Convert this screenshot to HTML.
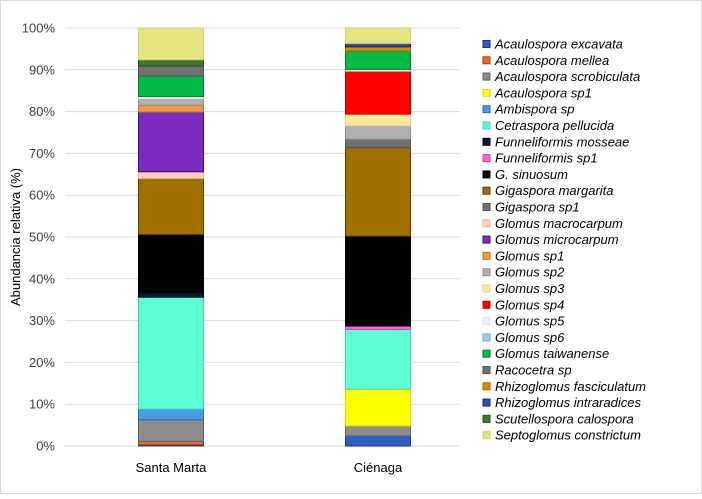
<!DOCTYPE html>
<html><head><meta charset="utf-8">
<style>
body{margin:0;background:#fff;}
#chart{position:relative;width:702px;height:494px;font-family:"Liberation Sans",sans-serif;}
svg text{font-family:"Liberation Sans",sans-serif;}
</style></head>
<body>
<div id="chart">
<svg id="svg" width="702" height="494" xmlns="http://www.w3.org/2000/svg">
<rect x="0.5" y="0.5" width="701" height="493" fill="#fff" stroke="#d9d9d9"/>
<text x="0" y="0" transform="translate(20,237) rotate(-90)" text-anchor="middle" font-size="13" fill="#000">Abundancia relativa (%)</text>
</svg>
</div>
<script>
const categories = ["Santa Marta", "Ciénaga"];
const species = ["Acaulospora excavata","Acaulospora mellea","Acaulospora scrobiculata","Acaulospora sp1","Ambispora sp","Cetraspora pellucida","Funneliformis mosseae","Funneliformis sp1","G. sinuosum","Gigaspora margarita","Gigaspora sp1","Glomus macrocarpum","Glomus microcarpum","Glomus sp1","Glomus sp2","Glomus sp3","Glomus sp4","Glomus sp5","Glomus sp6","Glomus taiwanense","Racocetra sp","Rhizoglomus fasciculatum","Rhizoglomus intraradices","Scutellospora calospora","Septoglomus constrictum"];
const santaMarta = [0.3,0.8,5.2,0,2.5,26.8,1.0,0,14.0,13.4,0,1.6,14.3,1.6,1.6,0,0,0.5,0,4.9,2.4,0,0,1.5,7.6];
const cienaga = [2.4,0,2.4,8.8,0,14.3,0,0.8,21.5,21.2,2.0,0,0,0,3.2,2.8,10.3,0.4,0,4.4,0,1.0,0.8,0,3.7];
const yTicks = [0,10,20,30,40,50,60,70,80,90,100];
const fills = ["#2f5fc4","#ed6b21","#8c8c8c","#ffff00","#4a9be0","#5fffd6","#0a1a3a","#ff66dd","#000000","#a07000","#707070","#ffd0c0","#7b2bbf","#f39a40","#b0b0b0","#ffe9a0","#ff0000","#f2f2f2","#a9c8f0","#00bb44","#707070","#e08a00","#2450b0","#3a7a2a","#e5e580"];
const strokes = ["#1a2f80","#a04010","#606060","#dddd00","#2a6ab0","#40d0b0","#000020","#d040b0","#000","#5a3a00","#505050","#f0b0a0","#3a1070","#c07020","#909090","#f0d080","#c00000","#e0e0e0","#80a0d0","#008030","#505050","#b06000","#102880","#205018","#d0d070"];
const series = [santaMarta, cienaga];
const svg = document.getElementById('svg');
const NS = "http://www.w3.org/2000/svg";
const plotL = 65, plotR = 460, y0 = 446, y100 = 28;
const yScale = v => y0 - (v/100)*(y0-y100);
const xCenter = i => 171 + i*207;
const barW = 65;
function mk(tag, attrs){const e=document.createElementNS(NS,tag);for(const k in attrs)e.setAttribute(k,attrs[k]);svg.appendChild(e);return e;}
yTicks.forEach(t=>{
  const y=yScale(t);
  const g=mk('line',{x1:plotL,x2:plotR,y1:y,y2:y,stroke:'#d9d9d9','stroke-width':1});
  
  
  const tx=mk('text',{x:55,y:y+4.5,'text-anchor':'end','font-size':13,fill:'#404040'});
  tx.textContent=t+'%';
  
  
});
series.forEach((vals,ci)=>{
  let cum=0;
  const x=xCenter(ci)-barW/2;
  vals.forEach((v,si)=>{
    if(v<=0){return;}
    const yt=yScale(cum+v), yb=yScale(cum);
    const r=mk('rect',{x:x,y:yt,width:barW,height:yb-yt,fill:fills[si],stroke:strokes[si],'stroke-width':1});
    
    
    cum+=v;
  });
  const lb=mk('text',{x:xCenter(ci),y:472,'text-anchor':'middle','font-size':13,fill:'#000'});
  lb.textContent=categories[ci];
  
  
});
species.forEach((s,i)=>{
  const y=44+i*16.3;
  const m=mk('rect',{x:483,y:y-3.5,width:7,height:7,fill:fills[i],stroke:strokes[i],'stroke-width':1});
  
  
  const t=mk('text',{x:495,y:y+4.5,'font-size':13,'font-style':'italic',fill:'#000'});
  t.textContent=s;
  
  
});
</script>
</body></html>
